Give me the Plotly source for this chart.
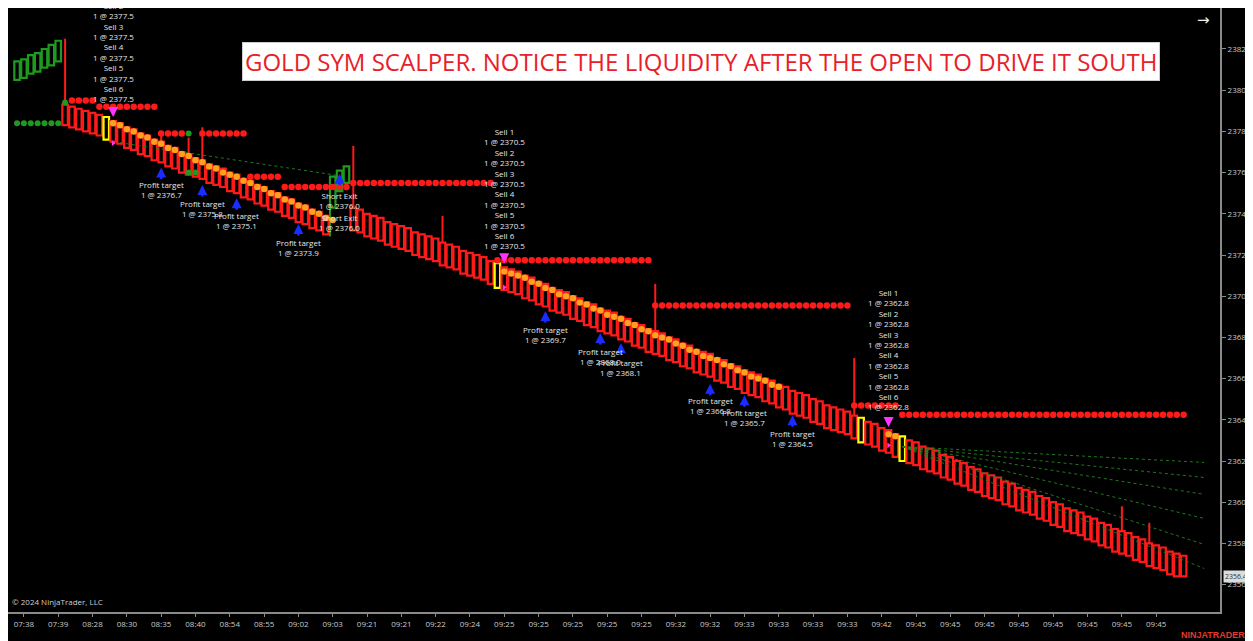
import plotly.graph_objects as go

# ---------------- data ----------------
first_bar = -1
bar_open = [
    2380.5, 2380.6, 2380.8, 2380.9, 2381.1, 2381.2, 2381.4,
    2379.3, 2379.2, 2379.1, 2379.0, 2378.9, 2378.8, 2378.7, 2378.5, 2378.4, 2378.2,
    2378.1, 2377.9, 2377.8, 2377.6, 2377.5, 2377.3, 2377.2, 2377.0, 2376.9, 2376.7,
    2376.6, 2376.4, 2376.3, 2376.2, 2376.0, 2375.9, 2375.7, 2375.6, 2375.4, 2375.3,
    2375.1, 2375.0, 2374.8, 2374.7, 2374.5, 2374.4, 2374.2, 2374.1, 2373.9,
    2374.3, 2375.1, 2375.5,
    2374.3, 2374.2, 2374.0, 2373.9, 2373.8, 2373.6, 2373.5, 2373.4, 2373.3, 2373.1,
    2373.0, 2372.9, 2372.8, 2372.6, 2372.5, 2372.4, 2372.2, 2372.1, 2372.0, 2371.9,
    2371.7, 2371.6, 2371.4, 2371.3, 2371.2, 2371.0, 2370.9, 2370.7, 2370.6, 2370.4,
    2370.3, 2370.2, 2370.0, 2369.9, 2369.7, 2369.6, 2369.4, 2369.3, 2369.2, 2369.0,
    2368.9, 2368.7, 2368.6, 2368.4, 2368.3, 2368.2, 2368.0, 2367.9, 2367.7, 2367.6,
    2367.4, 2367.3, 2367.2, 2367.0, 2366.9, 2366.7, 2366.6, 2366.4, 2366.3, 2366.2,
    2366.0, 2365.9, 2365.7, 2365.6, 2365.4, 2365.3, 2365.2, 2365.0, 2364.9, 2364.7,
    2364.6, 2364.5, 2364.4, 2364.2, 2364.1, 2363.9, 2363.8, 2363.6, 2363.5, 2363.3,
    2363.2, 2363.0, 2362.9, 2362.7, 2362.6, 2362.5, 2362.3, 2362.2, 2362.0, 2361.9,
    2361.7, 2361.6, 2361.4, 2361.3, 2361.2, 2361.0, 2360.9, 2360.7, 2360.6, 2360.5,
    2360.3, 2360.2, 2360.0, 2359.9, 2359.7, 2359.6, 2359.5, 2359.3, 2359.2, 2359.0,
    2358.9, 2358.7, 2358.6, 2358.5, 2358.3, 2358.2, 2358.0, 2357.9, 2357.8, 2357.6,
    2357.5, 2357.4,
]
bar_close = [
    2381.4, 2381.5, 2381.7, 2381.8, 2382.0, 2382.2, 2382.4,
    2378.3, 2378.2, 2378.1, 2378.0, 2377.9, 2377.8, 2377.6, 2377.5, 2377.4, 2377.2,
    2377.1, 2376.9, 2376.8, 2376.6, 2376.5, 2376.3, 2376.2, 2376.0, 2375.9, 2375.8,
    2375.7, 2375.5, 2375.4, 2375.3, 2375.1, 2375.0, 2374.8, 2374.7, 2374.5, 2374.4,
    2374.2, 2374.1, 2373.9, 2373.8, 2373.6, 2373.5, 2373.3, 2373.2, 2373.0,
    2375.8, 2376.1, 2376.3,
    2373.2, 2373.1, 2372.9, 2372.8, 2372.7, 2372.5, 2372.4, 2372.3, 2372.2, 2372.0,
    2371.9, 2371.8, 2371.7, 2371.5, 2371.4, 2371.3, 2371.1, 2371.0, 2370.9, 2370.8,
    2370.6, 2370.4, 2370.3, 2370.2, 2370.1, 2369.9, 2369.8, 2369.6, 2369.5, 2369.3,
    2369.2, 2369.1, 2368.9, 2368.8, 2368.6, 2368.5, 2368.3, 2368.2, 2368.1, 2367.9,
    2367.8, 2367.6, 2367.5, 2367.3, 2367.2, 2367.1, 2366.9, 2366.8, 2366.6, 2366.5,
    2366.3, 2366.2, 2366.1, 2365.9, 2365.8, 2365.6, 2365.5, 2365.3, 2365.2, 2365.1,
    2364.9, 2364.8, 2364.6, 2364.5, 2364.3, 2364.2, 2364.1, 2363.9, 2363.8, 2363.6,
    2363.5, 2363.4, 2363.3, 2363.1, 2362.9, 2362.8, 2362.7, 2362.5, 2362.4, 2362.2,
    2362.0, 2361.9, 2361.8, 2361.6, 2361.5, 2361.4, 2361.2, 2361.1, 2360.9, 2360.8,
    2360.6, 2360.5, 2360.3, 2360.2, 2360.1, 2359.9, 2359.8, 2359.6, 2359.5, 2359.4,
    2359.2, 2359.1, 2358.9, 2358.8, 2358.6, 2358.5, 2358.4, 2358.2, 2358.1, 2357.9,
    2357.8, 2357.6, 2357.5, 2357.4, 2357.2, 2357.1, 2356.9, 2356.8, 2356.7, 2356.5,
    2356.4, 2356.4,
]
signal_bars = [12, 69, 122, 128]
wick_bars = [6, 20, 24, 26, 48, 61, 92, 121, 160, 164]
wick_high = [2382.5, 2378.0, 2377.7, 2378.2, 2377.3, 2373.9, 2370.6, 2367.0, 2359.8, 2359.0]
tail_bars = [45]
tail_low = [2372.9]

tick_labels = ["07:38", "07:39", "08:28", "08:30", "08:35", "08:40", "08:54", "08:55",
               "09:02", "09:03", "09:21", "09:21", "09:22", "09:24", "09:25", "09:25",
               "09:25", "09:25", "09:25", "09:32", "09:32", "09:33", "09:33", "09:33",
               "09:33", "09:42", "09:45", "09:45", "09:45", "09:45", "09:45", "09:45",
               "09:45", "09:45"]
bars_per_label = 5

level_price = [2379.5, 2379.2, 2377.9, 2377.9, 2375.8, 2375.3, 2375.5, 2371.75, 2369.55, 2364.7, 2364.25]
level_start = [7, 11, 20, 26, 33, 38, 48, 69, 92, 121, 128]
level_end = [10, 19, 23, 32, 37, 47, 68, 91, 120, 127, 169]

orange_start = [13, 70, 126]
orange_vals = [
    [2378.4, 2378.3, 2378.1, 2378.0, 2377.8, 2377.7, 2377.5, 2377.4, 2377.2, 2377.1,
     2376.9, 2376.8, 2376.6, 2376.5, 2376.3, 2376.2, 2376.0, 2375.9, 2375.8, 2375.6,
     2375.5, 2375.3, 2375.2, 2375.0, 2374.9, 2374.7, 2374.6, 2374.4, 2374.3, 2374.1,
     2374.0, 2373.8, 2373.7],
    [2371.2, 2371.1, 2371.0, 2370.9, 2370.7, 2370.6, 2370.4, 2370.3, 2370.1, 2370.0,
     2369.9, 2369.7, 2369.6, 2369.4, 2369.3, 2369.1, 2369.0, 2368.9, 2368.7, 2368.6,
     2368.4, 2368.3, 2368.1, 2368.0, 2367.9, 2367.7, 2367.6, 2367.4, 2367.3, 2367.1,
     2367.0, 2366.9, 2366.7, 2366.6, 2366.4, 2366.3, 2366.1, 2366.0, 2365.9, 2365.7,
     2365.6],
    [2363.3, 2363.2],
]

green_dot_bars = [-1, 0, 1, 2, 3, 4, 5, 6, 24, 24, 25]
green_dot_price = [2378.4, 2378.4, 2378.4, 2378.4, 2378.4, 2378.4, 2378.4, 2379.4, 2377.9, 2376.0, 2376.0]

fan_left = ([14, 46], [2377.45, 2375.85])
fan_origin_bar, fan_origin_price = 128, 2362.7
fan_end_bar = 172
fan_end_prices = [2361.93, 2361.2, 2360.38, 2359.21, 2357.95, 2356.78]

sell_bars = [13, 70, 126]
sell_fill = ["2377.5", "2370.5", "2362.8"]
sell_text_bottom = [2379.23, 2372.09, 2364.26]
sell_arrow_price = [2378.7, 2371.6, 2363.65]
sell_mark_price = [2377.43, 2370.43, 2362.76]

pt_bars = [20, 26, 31, 40, 76, 84, 87, 100, 105, 112]
pt_arrow_price = [2376.25, 2375.4, 2374.75, 2373.5, 2369.28, 2368.21, 2367.72, 2365.75, 2365.19, 2364.22]
pt_label_price = [2375.17, 2374.25, 2373.67, 2372.35, 2368.13, 2367.06, 2366.52, 2364.68, 2364.09, 2363.07]
pt_fill = ["2376.7", "2375.8", "2375.1", "2373.9", "2369.7", "2368.0", "2368.1", "2366.8", "2365.7", "2364.5"]

exit_bar = 46
exit_arrow_price = 2375.95
exit_label_price = [2374.64, 2373.6]
exit_fill = ["2376.0", "2376.0"]

last_price = 2356.4
title_text = "GOLD SYM SCALPER. NOTICE THE LIQUIDITY AFTER THE OPEN TO DRIVE IT SOUTH"

# ---------------- figure ----------------
RED = "#ff1a1a"
GREEN = "#1f9a1f"
TXT = "#e6e6e6"
FONT = "Open Sans"

idx = list(range(first_bar, first_bar + len(bar_open)))
bases = [min(o, c) for o, c in zip(bar_open, bar_close)]
heights = [abs(c - o) for o, c in zip(bar_open, bar_close)]
colors = ["#ffff00" if i in signal_bars else (GREEN if c > o else RED)
          for i, o, c in zip(idx, bar_open, bar_close)]

fig = go.Figure()

# fan lines
fig.add_trace(go.Scatter(x=fan_left[0], y=fan_left[1], mode="lines",
                         line=dict(color="#1e7a1e", width=1, dash="dot"), hoverinfo="skip"))
fx, fy = [], []
for p in fan_end_prices:
    fx += [fan_origin_bar, fan_end_bar, None]
    fy += [fan_origin_price, p, None]
fig.add_trace(go.Scatter(x=fx, y=fy, mode="lines",
                         line=dict(color="#1e7a1e", width=1, dash="dot"), hoverinfo="skip"))

fig.add_trace(go.Bar(x=idx, y=heights, base=bases, width=0.8,
                     marker=dict(color="rgba(0,0,0,0)", line=dict(color=colors, width=2.2)),
                     hoverinfo="skip"))

# wicks
wx, wy = [], []
top_of = {i: max(o, c) for i, o, c in zip(idx, bar_open, bar_close)}
low_of = {i: min(o, c) for i, o, c in zip(idx, bar_open, bar_close)}
for b, h in zip(wick_bars, wick_high):
    wx += [b, b, None]
    wy += [top_of[b], h, None]
fig.add_trace(go.Scatter(x=wx, y=wy, mode="lines", line=dict(color=RED, width=2), hoverinfo="skip"))
tx, ty = [], []
for b, l in zip(tail_bars, tail_low):
    tx += [b - 0.4, b - 0.4, None]
    ty += [low_of[b], l, None]
fig.add_trace(go.Scatter(x=tx, y=ty, mode="lines", line=dict(color=GREEN, width=2), hoverinfo="skip"))

# red levels
lx, ly = [], []
for p, s, e in zip(level_price, level_start, level_end):
    for b in range(s, e + 1):
        lx.append(b)
        ly.append(p)
fig.add_trace(go.Scatter(x=lx, y=ly, mode="markers", marker=dict(color=RED, size=6.5), hoverinfo="skip"))

# orange
ox, oy = [], []
for s, vals in zip(orange_start, orange_vals):
    for k, v in enumerate(vals):
        ox.append(s + k)
        oy.append(v)
fig.add_trace(go.Scatter(x=ox, y=oy, mode="markers", marker=dict(color="#ffa01e", size=6.5), hoverinfo="skip"))

fig.add_trace(go.Scatter(x=green_dot_bars, y=green_dot_price, mode="markers",
                         marker=dict(color=GREEN, size=6), hoverinfo="skip"))

fig.add_trace(go.Scatter(x=sell_bars, y=sell_mark_price, mode="markers",
                         marker=dict(symbol="triangle-right", color="#ff33ff", size=5), hoverinfo="skip"))

ann = []
# arrows (head at data point)
for b, p in zip(sell_bars, sell_arrow_price):
    ann.append(dict(x=b, y=p, xref="x", yref="y", text="", showarrow=True, ax=0, ay=-11,
                    arrowcolor="#ff33ff", arrowwidth=2.5, arrowhead=2, arrowsize=0.8, standoff=0))
for b, p in zip(pt_bars + [exit_bar], pt_arrow_price + [exit_arrow_price]):
    ann.append(dict(x=b, y=p, xref="x", yref="y", text="", showarrow=True, ax=0, ay=13,
                    arrowcolor="#1a2cff", arrowwidth=2.5, arrowhead=2, arrowsize=0.8, standoff=0))

for b, f, yb in zip(sell_bars, sell_fill, sell_text_bottom):
    t = "<br>".join(f"Sell {k}<br>1 @ {f}" for k in range(1, 7))
    ann.append(dict(x=b, y=yb, xref="x", yref="y", text=t, showarrow=False, yanchor="bottom",
                    xanchor="center", font=dict(size=8, color=TXT, family=FONT), align="center"))
for b, yl, f in zip(pt_bars, pt_label_price, pt_fill):
    ann.append(dict(x=b, y=yl, xref="x", yref="y", text=f"Profit target<br>1 @ {f}", showarrow=False,
                    xanchor="center", yanchor="middle",
                    font=dict(size=8, color=TXT, family=FONT), align="center"))
for yl, f in zip(exit_label_price, exit_fill):
    ann.append(dict(x=exit_bar, y=yl, xref="x", yref="y", text=f"Short Exit<br>1 @ {f}", showarrow=False,
                    xanchor="center", yanchor="middle",
                    font=dict(size=8, color=TXT, family=FONT), align="center"))

ann.append(dict(x=0.5715, y=0.9114, xref="paper", yref="paper", text=title_text, showarrow=False,
                xanchor="center", yanchor="middle",
                font=dict(size=24, color="#e8202a", family=FONT), bgcolor="#ffffff",
                bordercolor="#cfcfcf", borderwidth=1, borderpad=2))
ann.append(dict(x=0.0016, y=0.0166, xref="paper", yref="paper", text="© 2024 NinjaTrader, LLC",
                showarrow=False, xanchor="left", yanchor="middle",
                font=dict(size=8, color="#d0d0d0", family=FONT)))
ann.append(dict(x=1.0222, y=-0.0381, xref="paper", yref="paper", text="<b>NINJATRADER</b>",
                showarrow=False, xanchor="right", yanchor="middle",
                font=dict(size=9, color="#e03a2e", family="Liberation Sans")))
ann.append(dict(x=0.986, y=0.980, xref="paper", yref="paper", text="→",
                showarrow=False, xanchor="center", yanchor="middle",
                font=dict(size=15, color="#f0f0f0", family="DejaVu Sans")))
ann.append(dict(x=1.0025, y=last_price, xref="paper", yref="y", text=f"{last_price:.1f}",
                showarrow=False, xanchor="left", yanchor="middle", bgcolor="#dcdcdc",
                font=dict(size=7, color="#333333", family=FONT), borderpad=1))

# page has an 8px body margin: figure is sized to the remaining window area
fig.update_layout(
    width=1245, height=633,
    margin=dict(l=0, r=28, t=0, b=29),
    paper_bgcolor="#000000", plot_bgcolor="#000000",
    showlegend=False,
    annotations=ann,
    xaxis=dict(range=[-2.32, 174.3], showgrid=False, zeroline=False,
               tickvals=[k * bars_per_label for k in range(len(tick_labels))], ticktext=tick_labels,
               tickfont=dict(size=8, color="#c8c8c8", family=FONT),
               showline=True, linecolor="#8a8a8a", linewidth=2, ticks="outside", ticklen=3,
               tickcolor="#8a8a8a"),
    yaxis=dict(range=[2354.67, 2383.99], side="right", showgrid=False, zeroline=False,
               tickvals=list(range(2356, 2384, 2)), tickformat=".1f",
               tickfont=dict(size=8, color="#c8c8c8", family=FONT),
               showline=True, linecolor="#8a8a8a", linewidth=2, ticks="outside", ticklen=4,
               tickcolor="#8a8a8a"),
)

fig.write_html("out.html")
